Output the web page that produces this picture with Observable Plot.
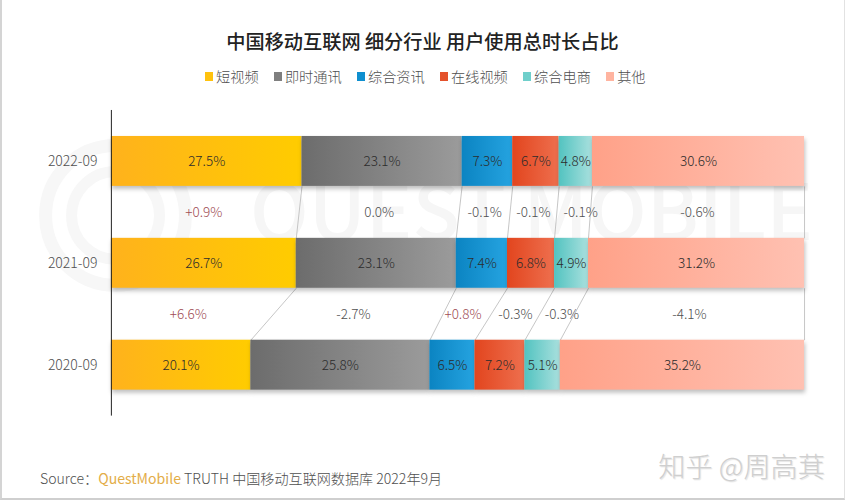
<!DOCTYPE html>
<html lang="zh">
<head>
<meta charset="utf-8">
<script src="https://cdn.jsdelivr.net/npm/d3@7"></script>
<script src="https://cdn.jsdelivr.net/npm/@observablehq/plot@0.6"></script>
<style>
  html, body { margin: 0; padding: 0; background: #fff; }
  #page { position: relative; width: 845px; height: 500px; box-sizing: border-box; overflow: hidden; background: #fff;
    border-left: 2px solid #d4d4d4; border-right: 1px solid #e2e2e2; border-bottom: 2px solid #cfcfcf;
    font-family: "Noto Sans CJK SC", "Noto Sans", sans-serif; }
  #title { position: absolute; left: -2px; width: 845px; top: 27px; text-align: center; font-size: 19.2px; font-weight: 500; line-height: 28px; color: #222; }
  #legend { position: absolute; left: 203px; top: 66px; display: flex; font-size: 14.2px; line-height: 20px; color: #4e4e4e; white-space: nowrap; font-weight: 300; }
  #legend .item { display: flex; align-items: center; margin-right: 15.3px; }
  #legend .sw { width: 8px; height: 9px; margin-right: 3px; }
  #chart { position: absolute; left: -2px; top: 95px; }
  #source { position: absolute; left: 38px; top: 468px; font-size: 14.1px; line-height: 20px; color: #505050; white-space: nowrap; font-weight: 300; }
  #source b { font-weight: 400; color: #e3ad48; }
  #zhihu { position: absolute; right: 19px; top: 449px; font-size: 27.2px; line-height: 32px; color: #cfcfcf; white-space: nowrap; font-weight: 300; text-shadow: 1px 1px 1px #e4e4e4; }
</style>
</head>
<body>
<div id="page">
  <div id="title"></div>
  <div id="legend"></div>
  <div id="chart"></div>
  <div id="source"></div>
  <div id="zhihu"></div>
</div>
<script>
const titleText = "中国移动互联网 细分行业 用户使用总时长占比";
const sourceLead = "Source：";
const sourceBrand = "QuestMobile";
const sourceTail = " TRUTH 中国移动互联网数据库 2022年9月";
const zhihuText = "知乎 @周高萁";
const watermarkText = "QUEST MOBILE";

const periods = ["2022-09", "2021-09", "2020-09"];
const categories = ["短视频", "即时通讯", "综合资讯", "在线视频", "综合电商", "其他"];

const shortVideo = [27.5, 26.7, 20.1];
const instantMsg = [23.1, 23.1, 25.8];
const newsApps   = [7.3, 7.4, 6.5];
const onlineVideo = [6.7, 6.8, 7.2];
const eCommerce  = [4.8, 4.9, 5.1];
const others     = [30.6, 31.2, 35.2];
const seriesValues = [shortVideo, instantMsg, newsApps, onlineVideo, eCommerce, others];

const changeUpper = ["+0.9%", "0.0%", "-0.1%", "-0.1%", "-0.1%", "-0.6%"];
const changeLower = ["+6.6%", "-2.7%", "+0.8%", "-0.3%", "-0.3%", "-4.1%"];

const swatchColors = ["#ffc20e", "#7f7f7f", "#0f8fcf", "#e4522c", "#6fcfcb", "#ffb4a0"];
const gradientStarts = ["#ffb21c", "#6c6c6c", "#0b84c2", "#e2451e", "#52c3c0", "#ffa188"];
const gradientEnds   = ["#ffcc00", "#9b9b9b", "#25a3e0", "#ee6f4e", "#a9e0de", "#ffc1b2"];

// Page furniture
d3.select("#title").text(titleText);
const legend = d3.select("#legend").selectAll(".item").data(categories).join("div").attr("class", "item");
legend.append("div").attr("class", "sw").style("background", (d, i) => swatchColors[i]);
legend.append("span").text(d => d);
d3.select("#source").html("").call(s => {
  s.append("span").text(sourceLead);
  s.append("b").text(sourceBrand);
  s.append("span").text(sourceTail);
});
d3.select("#zhihu").text(zhihuText);

// Derived table: each segment's extent, using the row's values as printed
const segments = [];
periods.forEach((period, row) => {
  let start = 0;
  const total = d3.sum(seriesValues, s => s[row]);
  categories.forEach((category, c) => {
    const value = seriesValues[c][row];
    segments.push({period, row, category, c, value,
      x1: start / total * 100, x2: (start + value) / total * 100,
      label: value.toFixed(1) + "%"});
    start += value;
  });
});
const seg = (row, c) => segments[row * categories.length + c];

// Each row occupies one unit on the y scale; the bar fills the middle of it
const barHalf = 0.245;
const rowMid = row => row + 0.5;

// Small placement shifts of the change labels away from the segment midpoints
const changeShift = [[-0.2, 0, 0, 0, 1, 0], [-0.6, -0.7, -0.6, 0, 0.7, 0]];

const connectors = [];
const changes = [];
[changeUpper, changeLower].forEach((labels, row) => {
  categories.forEach((category, c) => {
    const a = seg(row, c), b = seg(row + 1, c);
    connectors.push({x1: a.x2, x2: b.x2, y1: rowMid(row) + barHalf, y2: rowMid(row + 1) - barHalf});
    changes.push({x: (a.x1 + a.x2 + b.x1 + b.x2) / 4 + changeShift[row][c], y: row + 1, text: labels[c]});
  });
});

const gradients = () => {
  const defs = d3.create("svg:defs");
  gradientStarts.forEach((start, i) => {
    const g = defs.append("linearGradient").attr("id", "seg" + i);
    g.append("stop").attr("offset", "0%").attr("stop-color", start);
    g.append("stop").attr("offset", "100%").attr("stop-color", gradientEnds[i]);
  });
  return defs.node();
};

const textFont = '"Noto Sans CJK SC", "Noto Sans", sans-serif';

const chart = Plot.plot({
  width: 845,
  height: 335,
  marginTop: 15,
  marginBottom: 14,
  marginLeft: 111,
  marginRight: 40,
  style: {background: "transparent", fontFamily: textFont, overflow: "visible"},
  x: {domain: [0, 100], axis: null},
  y: {domain: [0, 3], reverse: true, axis: null},
  marks: [
    gradients,
    // faint watermark
    Plot.dot([{x: 0.6, y: 1.03}], {x: "x", y: "y", r: 70, fill: "none", stroke: "#f7f7f7", strokeWidth: 13}),
    Plot.dot([{x: 0.6, y: 1.03}], {x: "x", y: "y", r: 44, fill: "none", stroke: "#f7f7f7", strokeWidth: 11}),
    Plot.text([watermarkText], {x: 20, y: 1.03, text: d => d, textAnchor: "start", fontSize: 78, fontWeight: 500, fill: "#f6f6f6"}),
    // connectors between the bars
    Plot.link(connectors, {x1: "x1", x2: "x2", y1: "y1", y2: "y2", stroke: "#b8b8b8", strokeWidth: 0.8}),
    // stacked segments, one mark per category so each has its own gradient
    ...categories.map((category, c) => Plot.rect(segments.filter(d => d.c === c), {
      x1: "x1", x2: "x2",
      y1: d => rowMid(d.row) - barHalf, y2: d => rowMid(d.row) + barHalf,
      fill: `url(#seg${c})`,
      imageFilter: "drop-shadow(1px 3px 2px rgba(0,0,0,0.25))"
    })),
    Plot.text(segments, {x: d => (d.x1 + d.x2) / 2, y: d => rowMid(d.row), text: "label", fontSize: 13.5, fontWeight: 300, fill: "#2c2c2c"}),
    Plot.text(changes, {x: "x", y: "y", text: "text", fontSize: 13.5, fontWeight: 300, fill: d => d.text.startsWith("+") ? "#a04c54" : "#505050"}),
    Plot.ruleX([0], {stroke: "#222", strokeWidth: 1}),
    Plot.axisY({
      ticks: periods.map((p, i) => rowMid(i)),
      tickFormat: v => periods[Math.floor(v)],
      tickSize: 0, tickPadding: 14, fontSize: 14, fontWeight: 300, color: "#505050", label: null, anchor: "left"
    })
  ]
});
document.getElementById("chart").append(chart);
</script>
</body>
</html>
